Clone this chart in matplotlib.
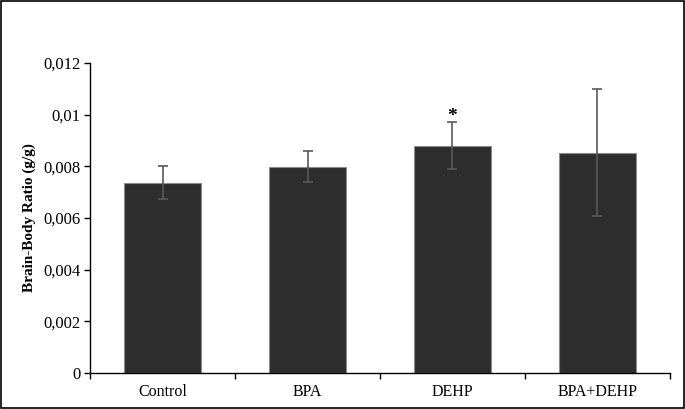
import matplotlib
matplotlib.use('Agg')
import matplotlib.pyplot as plt
from matplotlib.ticker import FuncFormatter, FixedLocator
import numpy as np

groups = ['Control', 'BPA', 'DEHP', 'BPA+DEHP']
ratio = [0.00737, 0.00799, 0.00880, 0.00853]
err = [0.00063, 0.00060, 0.00090, 0.00247]
marks = ['', '', '*', '']

plt.rcParams['font.family'] = ['Liberation Serif', 'DejaVu Serif']

fig = plt.figure(figsize=(6.85, 4.09), dpi=100)
ax = fig.add_axes([90 / 685, 1 - 373 / 409, 580 / 685, 310 / 409])

x = np.arange(len(groups))
ax.bar(x, ratio, width=0.53, color='#2d2d2d', edgecolor='#8c8c8c', linewidth=0.8, zorder=2)
ax.errorbar(x, ratio, yerr=err, fmt='none', ecolor='#595959', elinewidth=1.2,
            capsize=3.5, capthick=1.2, zorder=3)
for xi, r, e, m in zip(x, ratio, err, marks):
    if m:
        ax.text(xi, r + e - 0.0001, m, ha='center', va='bottom', fontsize=14, fontweight='bold')

ax.set_xlim(-0.5, len(groups) - 0.5)
ax.set_ylim(0, 0.012)
ax.set_yticks(np.arange(0, 0.0121, 0.002))
ax.yaxis.set_major_formatter(FuncFormatter(
    lambda v, p: '0' if abs(v) < 1e-12 else ('%g' % round(v, 4)).replace('.', ',')))
ax.set_xticks(x)
ax.set_xticklabels(groups)
ax.xaxis.set_minor_locator(FixedLocator(np.arange(-0.5, len(groups), 1.0)))
ax.tick_params(axis='x', which='major', length=0, labelsize=11.5, pad=8)
ax.tick_params(axis='x', which='minor', length=4, width=1, direction='out')
ax.tick_params(axis='y', length=4, width=1, labelsize=12, pad=3)
ax.set_ylabel('Brain-Body Ratio (g/g)', fontsize=11, fontweight='bold', labelpad=5)

for s in ['top', 'right']:
    ax.spines[s].set_visible(False)
for s in ['left', 'bottom']:
    ax.spines[s].set_linewidth(1)

fig.patches.append(plt.Rectangle((0.001, 0.002), 0.997, 0.996, transform=fig.transFigure,
                                 fill=False, edgecolor='black', linewidth=1.2))

fig.savefig('out.png', dpi=100)
